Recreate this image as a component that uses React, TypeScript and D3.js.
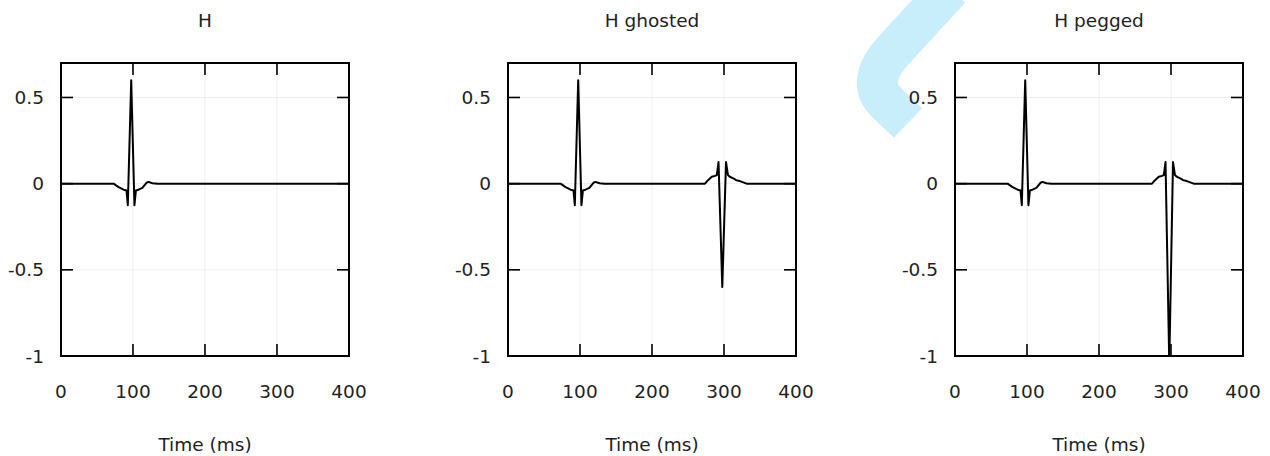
import React from "react";
import * as d3 from "d3";

// panel titles and ticks
const panelTitles = ["H", "H ghosted", "H pegged"];
const xTicks = [0, 100, 200, 300, 400];
const yTicks = [0.5, 0, -0.5, -1];
const yTickLabels = ["0.5", "0", "-0.5", "-1"];
const xLabel = "Time (ms)";

// H : single pulse around t=97.5
const hTime = [0, 73, 80, 87, 91, 92.8, 97.5, 102, 104, 107.6, 113, 118.7, 121.5, 127, 134, 400];
const hValue = [0, 0, -0.02, -0.035, -0.04, -0.125, 0.6, -0.125, -0.04, -0.035, -0.025, 0.005, 0.01, 0.002, 0, 0];

// H ghosted : pulse + inverted ghost around t=297.6
const ghostedTime = [0, 73, 80, 87, 91, 92.8, 97.5, 102, 104, 107.6, 113, 118.7, 121.5, 127, 134,
  273.6, 277.8, 283, 287.5, 290, 292.4, 297.6, 302.8, 305.5, 308, 312.9, 317, 322, 331.5, 400];
const ghostedValue = [0, 0, -0.02, -0.035, -0.04, -0.125, 0.6, -0.125, -0.04, -0.035, -0.025, 0.005, 0.01, 0.002, 0,
  0, 0.02, 0.04, 0.045, 0.05, 0.125, -0.6, 0.125, 0.05, 0.04, 0.03, 0.02, 0.015, 0, 0];

// H pegged : ghost clipped at -1
const peggedTime = [0, 73, 80, 87, 91, 92.8, 97.5, 102, 104, 107.6, 113, 118.7, 121.5, 127, 134,
  273.6, 277.8, 283, 287.5, 290, 292.4, 297.4, 297.8, 302.8, 305.5, 308, 312.9, 317, 322, 331.5, 400];
const peggedValue = [0, 0, -0.02, -0.035, -0.04, -0.125, 0.6, -0.125, -0.04, -0.035, -0.025, 0.005, 0.01, 0.002, 0,
  0, 0.02, 0.04, 0.045, 0.05, 0.125, -1, -1, 0.125, 0.05, 0.04, 0.03, 0.02, 0.015, 0, 0];

const seriesTimes = [hTime, ghostedTime, peggedTime];
const seriesValues = [hValue, ghostedValue, peggedValue];

const W = 1270;
const H = 456;
const panelLefts = [61, 508, 955];
const panelWidth = 288;
const top = 63;
const bottom = 356;
const font = "DejaVu Sans, sans-serif";
const fontSize = 18.5;
const tickLen = 12;

function Panel({ idx }: { idx: number }) {
  const left = panelLefts[idx];
  const right = left + panelWidth;
  const x = d3.scaleLinear().domain([0, 400]).range([left, right]);
  const y = d3.scaleLinear().domain([-1, 0.7]).range([bottom, top]);
  const pts = seriesTimes[idx].map((t, i) => [t, seriesValues[idx][i]] as [number, number]);
  const line = d3.line<[number, number]>().x(d => x(d[0])).y(d => y(d[1]));
  const cx = (left + right) / 2;

  return (
    <g>
      <text x={cx} y={27} textAnchor="middle" fontFamily={font} fontSize={fontSize} fill="#222">
        {panelTitles[idx]}
      </text>
      {/* faint grid */}
      {xTicks.slice(1, -1).map(t => (
        <line key={"gx" + t} x1={x(t)} x2={x(t)} y1={top} y2={bottom} stroke="#efefef" strokeWidth={1} />
      ))}
      {yTicks.slice(0, -1).map(t => (
        <line key={"gy" + t} x1={left} x2={right} y1={y(t)} y2={y(t)} stroke="#efefef" strokeWidth={1} />
      ))}
      {/* ticks, inward on all sides */}
      {xTicks.slice(1, -1).map(t => (
        <g key={"tx" + t}>
          <line x1={x(t)} x2={x(t)} y1={top} y2={top + tickLen} stroke="#000" strokeWidth={1.6} />
          <line x1={x(t)} x2={x(t)} y1={bottom} y2={bottom - tickLen} stroke="#000" strokeWidth={1.6} />
        </g>
      ))}
      {yTicks.slice(0, -1).map(t => (
        <g key={"ty" + t}>
          <line x1={left} x2={left + tickLen} y1={y(t)} y2={y(t)} stroke="#000" strokeWidth={1.6} />
          <line x1={right} x2={right - tickLen} y1={y(t)} y2={y(t)} stroke="#000" strokeWidth={1.6} />
        </g>
      ))}
      <path d={line(pts) || ""} fill="none" stroke="#000" strokeWidth={2} strokeLinejoin="round" />
      <rect x={left} y={top} width={panelWidth} height={bottom - top} fill="none" stroke="#000" strokeWidth={2} />
      {xTicks.map(t => (
        <text key={"lx" + t} x={x(t)} y={398} textAnchor="middle" fontFamily={font} fontSize={fontSize} fill="#222">
          {t}
        </text>
      ))}
      {yTicks.map((t, i) => (
        <text key={"ly" + t} x={left - 17} y={y(t) + 6.5} textAnchor="end" fontFamily={font} fontSize={fontSize} fill="#222">
          {yTickLabels[i]}
        </text>
      ))}
      <text x={cx} y={451} textAnchor="middle" fontFamily={font} fontSize={fontSize} fill="#222">
        {xLabel}
      </text>
    </g>
  );
}

export default function App() {
  return (
    <svg width={W} height={H} style={{ position: "absolute", left: 0, top: 0, background: "#fff" }}>
      <rect width={W} height={H} fill="#fff" />
      {/* cyan watermark stroke */}
      <path d="M 950 -11 L 894 50 Q 864 82 888 104 L 908 123" fill="none" stroke="#c8eefc" strokeWidth={41} />
      {[0, 1, 2].map(i => <Panel key={i} idx={i} />)}
    </svg>
  );
}
